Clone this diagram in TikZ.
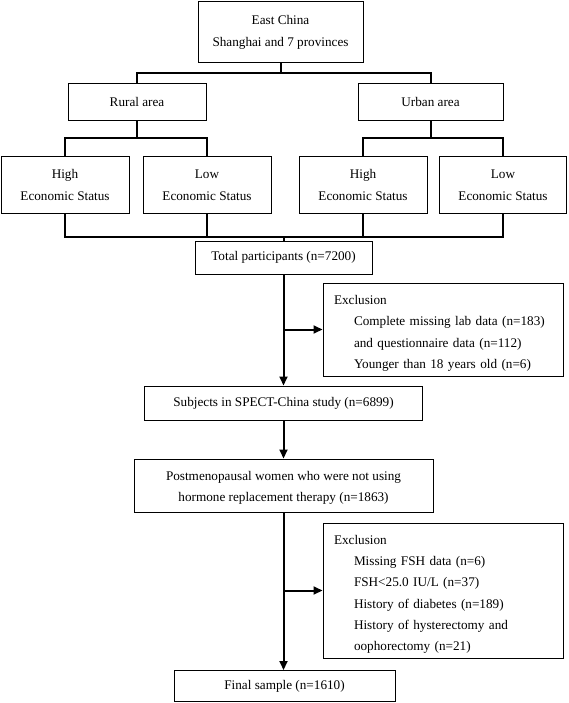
\documentclass[tikz,border=0pt]{standalone}
\usepackage{fontspec}
\setmainfont{Liberation Serif}
\usetikzlibrary{arrows.meta}
\begin{document}
\begin{tikzpicture}[x=1pt,y=-1pt,
  box/.style={draw,line width=1pt,align=center,font=\fontsize{13.2}{21.5}\selectfont,inner sep=0pt},
  exbox/.style={draw,line width=1pt,align=left,font=\fontsize{13.2}{21.2}\selectfont,inner xsep=11pt,inner ysep=0pt,text width=218pt,minimum width=240pt},
  conn/.style={line width=2pt},
  arr/.style={line width=2pt,-{Triangle[length=9pt,width=8pt]}}]
\useasboundingbox (0,0) rectangle (568,703);
\node[box,minimum width=165pt,minimum height=61pt] (ec) at (280.5,32.5) {East China\\Shanghai and 7 provinces};
\node[box,minimum width=138pt,minimum height=37pt] (rural) at (137,102) {Rural area};
\node[box,minimum width=145pt,minimum height=37pt] (urban) at (430.5,102) {Urban area};
\node[box,minimum width=128pt,minimum height=57pt] (h1) at (65,185) {High\\Economic Status};
\node[box,minimum width=128pt,minimum height=57pt] (l1) at (207,185) {Low\\Economic Status};
\node[box,minimum width=128pt,minimum height=57pt] (h2) at (363,185) {High\\Economic Status};
\node[box,minimum width=127pt,minimum height=57pt] (l2) at (503,185) {Low\\Economic Status};
\node[box,minimum width=177pt,minimum height=33pt] (total) at (283.5,257.5) {Total participants (n=7200)};
\node[exbox,minimum height=93pt] (ex1) at (443,329.5) {\rule{0pt}{17pt}Exclusion\\
\hspace*{20pt}Complete missing lab data (n=183)\\
\hspace*{20pt}and questionnaire data (n=112)\\
\hspace*{20pt}Younger than 18 years old (n=6)};
\node[box,minimum width=278pt,minimum height=34pt] (subj) at (283.5,403) {Subjects in SPECT-China study (n=6899)};
\node[box,minimum width=299pt,minimum height=53pt] (post) at (283.5,485.5) {\rule{0pt}{14pt}Postmenopausal women who were not using\\hormone replacement therapy (n=1863)};
\node[exbox,minimum height=135pt] (ex2) at (443,590.5) {\rule{0pt}{17pt}Exclusion\\
\hspace*{20pt}Missing FSH data (n=6)\\
\hspace*{20pt}FSH<25.0 IU/L (n=37)\\
\hspace*{20pt}History of diabetes (n=189)\\
\hspace*{20pt}History of hysterectomy and\\
\hspace*{20pt}oophorectomy (n=21)};
\node[box,minimum width=221pt,minimum height=31pt] (final) at (284.5,686) {Final sample (n=1610)};
\coordinate (j1) at (280.5,73.5);
\coordinate (j2) at (137,138);
\coordinate (j3) at (430.5,138);
\coordinate (j4) at (283.5,237);
\draw[conn] (ec.south) -- (j1);
\draw[conn] (rural.north) |- (j1) -| (urban.north);
\draw[conn] (rural.south) -- (j2);
\draw[conn] (h1.north) |- (j2) -| (l1.north);
\draw[conn] (urban.south) -- (j3);
\draw[conn] (h2.north) |- (j3) -| (l2.north);
\draw[conn] (h1.south) |- (j4) -| (l2.south);
\draw[conn] (l1.south) -- (l1.south |- j4);
\draw[conn] (h2.south) -- (h2.south |- j4);
\draw[conn] (j4) -- (total.north);
\draw[arr] (total.south) -- (subj.north);
\draw[arr] (total.south |- ex1.west) -- (ex1.west);
\draw[arr] (subj.south) -- (post.north);
\draw[arr] (post.south) -- (post.south |- final.north);
\draw[arr] (post.south |- ex2.west) -- (ex2.west);
\end{tikzpicture}
\end{document}
